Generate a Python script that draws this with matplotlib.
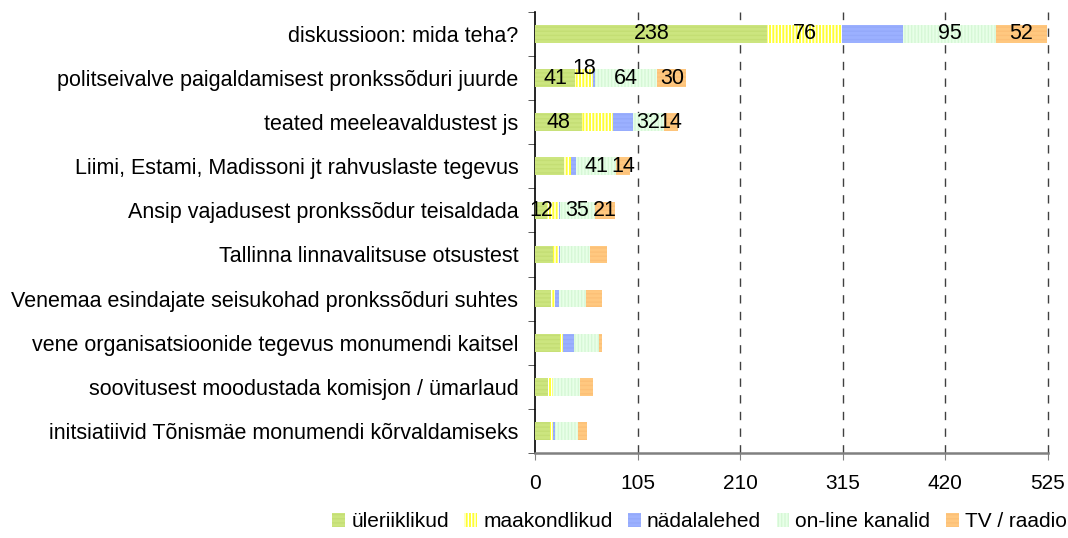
import numpy as np
import matplotlib
matplotlib.use("Agg")
import matplotlib.pyplot as plt
from matplotlib.patches import Patch

plt.rcParams['font.family'] = ['Liberation Sans', 'DejaVu Sans']
plt.rcParams['hatch.linewidth'] = 1.0

categories = [
    "diskussioon: mida teha?",
    "politseivalve paigaldamisest pronkssõduri juurde",
    "teated meeleavaldustest js",
    "Liimi, Estami, Madissoni jt rahvuslaste tegevus",
    "Ansip vajadusest pronkssõdur teisaldada",
    "Tallinna linnavalitsuse otsustest",
    "Venemaa esindajate seisukohad pronkssõduri suhtes",
    "vene organisatsioonide tegevus monumendi kaitsel",
    "soovitusest moodustada komisjon / ümarlaud",
    "initsiatiivid Tõnismäe monumendi kõrvaldamiseks",
]

series_names = ["üleriiklikud", "maakondlikud", "nädalalehed", "on-line kanalid", "TV / raadio"]

uleriiklikud = [238, 41, 48, 30, 12, 18, 16, 26, 13, 15]
maakondlikud = [76, 18, 32, 7, 12, 7, 4, 3, 5, 3]
nadalalehed = [63, 2, 20, 5, 2, 1, 4, 11, 0, 2]
online = [95, 64, 32, 41, 35, 30, 28, 25, 28, 24]
tv_raadio = [52, 30, 14, 14, 21, 18, 17, 4, 13, 9]

# which segment values are printed on the chart (None = no label)
shown = [
    [238, 76, None, 95, 52],
    [41, 18, None, 64, 30],
    [48, None, None, 32, 14],
    [None, None, None, 41, 14],
    [12, None, None, 35, 21],
] + [[None] * 5] * 5

xticks = [0, 105, 210, 315, 420, 525]

faces = ["#cce57f", "#ffff33", "#9bb0ff", "#e8ffe8", "#ffc880"]
hatch_cols = ["#c4de74", "#ffffff", "#94a9fa", "#d6f7d6", "#fcc077"]
hatches = ["----", "|||||", "----", "|||||", "----"]

data = [uleriiklikud, maakondlikud, nadalalehed, online, tv_raadio]

fig = plt.figure(figsize=(10.68, 5.38), dpi=100)
ax = fig.add_axes([0.501, 0.158, 0.480, 0.820])

y = np.arange(len(categories))
left = np.zeros(len(categories))
for i, vals in enumerate(data):
    vals = np.array(vals, dtype=float)
    ax.barh(y, vals, left=left, height=0.4, color=faces[i], edgecolor=hatch_cols[i],
            hatch=hatches[i], linewidth=0, zorder=3)
    for j, v in enumerate(vals):
        lab = shown[j][i]
        if lab is not None:
            dy = -0.22 if (j == 1 and i == 1) else 0
            ax.text(left[j] + v / 2, y[j] + dy, str(lab), ha="center", va="center",
                    fontsize=15.5, color="black", zorder=5)
    left += vals

ax.set_xlim(0, 525)
ax.set_ylim(len(categories) - 0.5, -0.5)
ax.set_xticks(xticks)
ax.set_xticklabels([str(t) for t in xticks], fontsize=15)
ax.set_yticks(y)
ax.set_yticklabels(categories, fontsize=15.5)
ax.set_yticks(np.arange(-0.5, len(categories), 1), minor=True)
ax.tick_params(axis="y", which="major", length=0, pad=12)
ax.tick_params(axis="y", which="minor", length=5, direction="out", color="#404040")
ax.tick_params(axis="x", which="major", length=5, direction="out", color="#808080", pad=10)

for t in xticks[1:]:
    ax.axvline(t, color="#404040", linestyle=(0, (6, 6)), linewidth=1.0, zorder=1,
               clip_on=False)

ax.spines["top"].set_visible(False)
ax.spines["right"].set_visible(False)
ax.spines["left"].set_color("black")
ax.spines["left"].set_linewidth(1.2)
ax.spines["bottom"].set_color("#808080")
ax.spines["bottom"].set_linewidth(1.8)

handles = [Patch(facecolor=faces[i], edgecolor=hatch_cols[i], hatch=hatches[i], linewidth=0)
           for i in range(5)]
fig.legend(handles, series_names, loc="center", bbox_to_anchor=(0.655, 0.03), ncol=5,
           frameon=False, fontsize=15, handlelength=0.6, handleheight=0.6,
           handletextpad=0.3, columnspacing=0.75)

fig.savefig("out.png", dpi=100)
